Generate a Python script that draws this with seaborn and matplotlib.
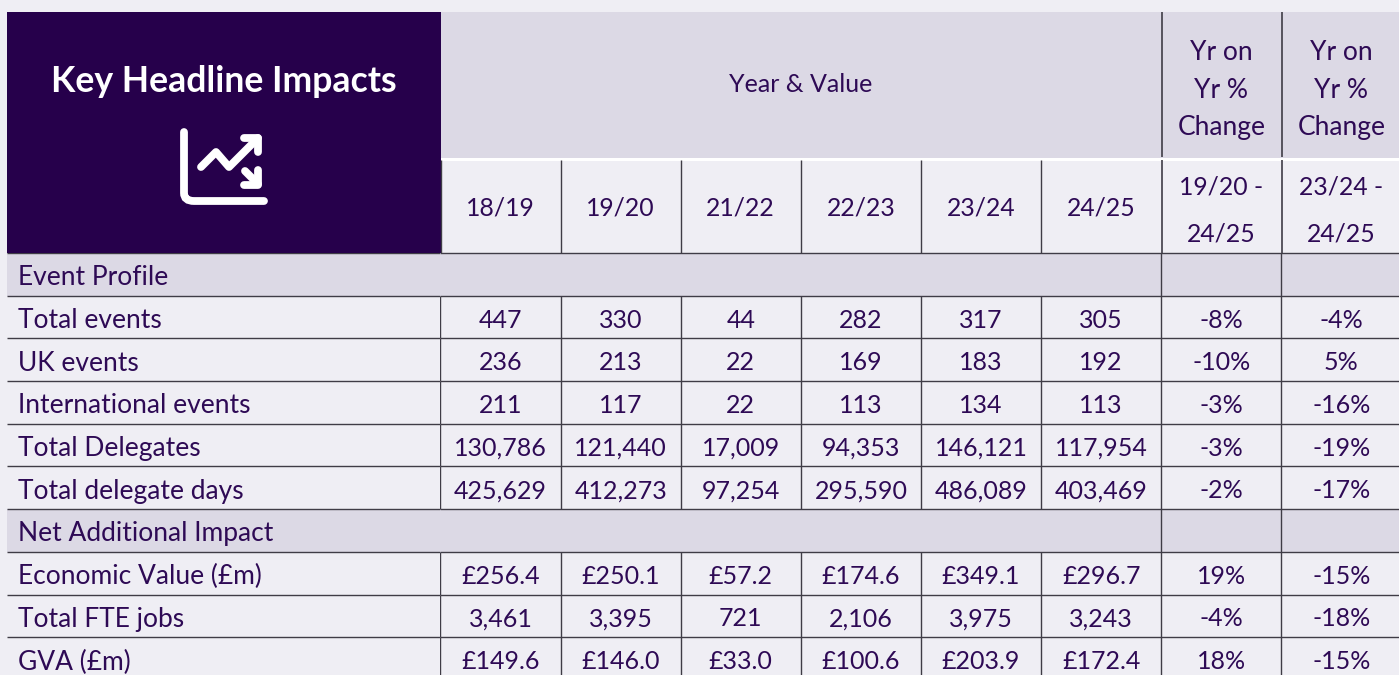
import numpy as np
import pandas as pd
import matplotlib
matplotlib.use("Agg")
import matplotlib.pyplot as plt
from matplotlib.colors import ListedColormap
from matplotlib.patches import Rectangle
from matplotlib.path import Path
from matplotlib.patches import PathPatch
import seaborn as sns

title = "Key Headline Impacts"
years = ["18/19", "19/20", "21/22", "22/23", "23/24", "24/25"]
change_periods = ["19/20 -\n24/25", "23/24 -\n24/25"]
row_labels = ["Event Profile", "Total events", "UK events", "International events",
              "Total Delegates", "Total delegate days", "Net Additional Impact",
              "Economic Value (£m)", "Total FTE jobs", "GVA (£m)"]
is_section = [1, 0, 0, 0, 0, 0, 1, 0, 0, 0]

col_1819 = ["", "447", "236", "211", "130,786", "425,629", "", "£256.4", "3,461", "£149.6"]
col_1920 = ["", "330", "213", "117", "121,440", "412,273", "", "£250.1", "3,395", "£146.0"]
col_2122 = ["", "44", "22", "22", "17,009", "97,254", "", "£57.2", "721", "£33.0"]
col_2223 = ["", "282", "169", "113", "94,353", "295,590", "", "£174.6", "2,106", "£100.6"]
col_2324 = ["", "317", "183", "134", "146,121", "486,089", "", "£349.1", "3,975", "£203.9"]
col_2425 = ["", "305", "192", "113", "117,954", "403,469", "", "£296.7", "3,243", "£172.4"]
chg_1920 = ["", "-8%", "-10%", "-3%", "-3%", "-2%", "", "19%", "-4%", "18%"]
chg_2324 = ["", "-4%", "5%", "-16%", "-19%", "-17%", "", "-15%", "-18%", "-15%"]

BG = "#EFEEF4"
BAND = "#DCD9E5"
DARK = "#26004B"
INK = "#2E0A55"
LINE = "#3F3C46"
W, H = 1399, 675
FS = 18
FS_LABEL = 19

sns.set_theme(style="white")
plt.rcParams["font.family"] = ["Lato", "DejaVu Sans"]
fig = plt.figure(figsize=(W / 100, H / 100), dpi=100, facecolor=BG)


def px_axes(x0, y0, x1, y1):
    return fig.add_axes([x0 / W, 1 - y1 / H, (x1 - x0) / W, (y1 - y0) / H])


body = pd.DataFrame({"a": col_1819, "b": col_1920, "c": col_2122, "d": col_2223,
                     "e": col_2324, "f": col_2425, "g": chg_1920, "h": chg_2324})
bands = np.array(is_section)
cmap = ListedColormap([BG, BAND])
top, rh = 253.0, 42.7
bottom = top + rh * len(row_labels)

# label column
ax_l = px_axes(7, top, 440.5, bottom)
sns.heatmap(bands[:, None], ax=ax_l, cmap=cmap, vmin=0, vmax=1, cbar=False,
            xticklabels=False, yticklabels=False)
for i, lab in enumerate(row_labels):
    ax_l.text(11 / 434, i + 0.58, lab, ha="left", va="center", fontsize=FS_LABEL, color=INK)

# value columns
ax_v = px_axes(440.5, top, 1401.5, bottom)
sns.heatmap(np.tile(bands[:, None], (1, 8)), ax=ax_v, cmap=cmap, vmin=0, vmax=1, cbar=False,
            annot=body.values, fmt="", annot_kws={"fontsize": FS, "color": INK},
            xticklabels=False, yticklabels=False)
# nudge annotations down a little, the reference text sits low in its cell
for t in ax_v.texts:
    x, y = t.get_position()
    t.set_position((x, y + 0.07))
for ax in (ax_l, ax_v):
    ax.hlines(range(0, len(row_labels) + 1), *ax.get_xlim(), color=LINE, lw=1.0, clip_on=False)
for i, sec in enumerate(is_section):
    xs = [6, 7] if sec else range(0, 8)
    ax_v.vlines(list(xs), i, i + 1, color=LINE, lw=1.0)

# header drawn in pixel coordinates
ax_h = px_axes(0, 0, W, top)
ax_h.set_xlim(0, W)
ax_h.set_ylim(top, 0)
ax_h.axis("off")
ax_h.add_patch(Rectangle((440.5, 12), W - 440.5, 146, fc=BAND, ec="none"))
ax_h.add_patch(Rectangle((440.5, 158), W - 440.5, 3, fc="white", ec="none"))
ax_h.add_patch(Rectangle((7, 12), 433.5, top - 12, fc=DARK, ec="none"))
ax_h.text(224, 82, title, ha="center", va="center", color="white", fontsize=25.7, fontweight="bold")

# chart icon
icon = dict(color="white", lw=5.6, solid_capstyle="round", solid_joinstyle="round")
ax_h.add_patch(PathPatch(Path([(184, 132), (184, 193), (184, 201), (194, 201), (264, 201)],
                              [Path.MOVETO, Path.LINETO, Path.CURVE3, Path.CURVE3, Path.LINETO]),
                         fc="none", ec="white", lw=5.6, capstyle="round"))
ax_h.plot([201, 216, 229, 258], [167, 152, 167, 138], **icon)
ax_h.plot([244, 258, 258], [138, 138, 152], **icon)
ax_h.plot([245, 258], [171, 184], **icon)
ax_h.plot([258, 258, 244], [170, 185, 185], **icon)

ax_h.text(801, 85, "Year & Value", ha="center", va="center", fontsize=FS, color=INK)
for x in (1161.5, 1281.5):
    ax_h.vlines(x, 12, 157, color=LINE, lw=1.2)
    ax_h.vlines(x, 160, top, color=LINE, lw=1.2)
    cx = x + 60
    for y, t in zip((53, 90, 127), ("Yr on", "Yr %", "Change")):
        ax_h.text(cx, y, t, ha="center", va="center", fontsize=FS_LABEL, color=INK)
for i, yr in enumerate(years):
    ax_h.text(500.5 + 120.1 * i, 208, yr, ha="center", va="center", fontsize=17.8, color=INK)
    ax_h.vlines(440.5 + 120.1 * i, 160, top, color=LINE, lw=1.0)
for cx, per in zip((1221.5, 1341.5), change_periods):
    a, b = per.split("\n")
    ax_h.text(cx, 187, a, ha="center", va="center", fontsize=17.8, color=INK)
    ax_h.text(cx, 234, b, ha="center", va="center", fontsize=17.8, color=INK)

fig.savefig("out.png", dpi=100, facecolor=BG)
